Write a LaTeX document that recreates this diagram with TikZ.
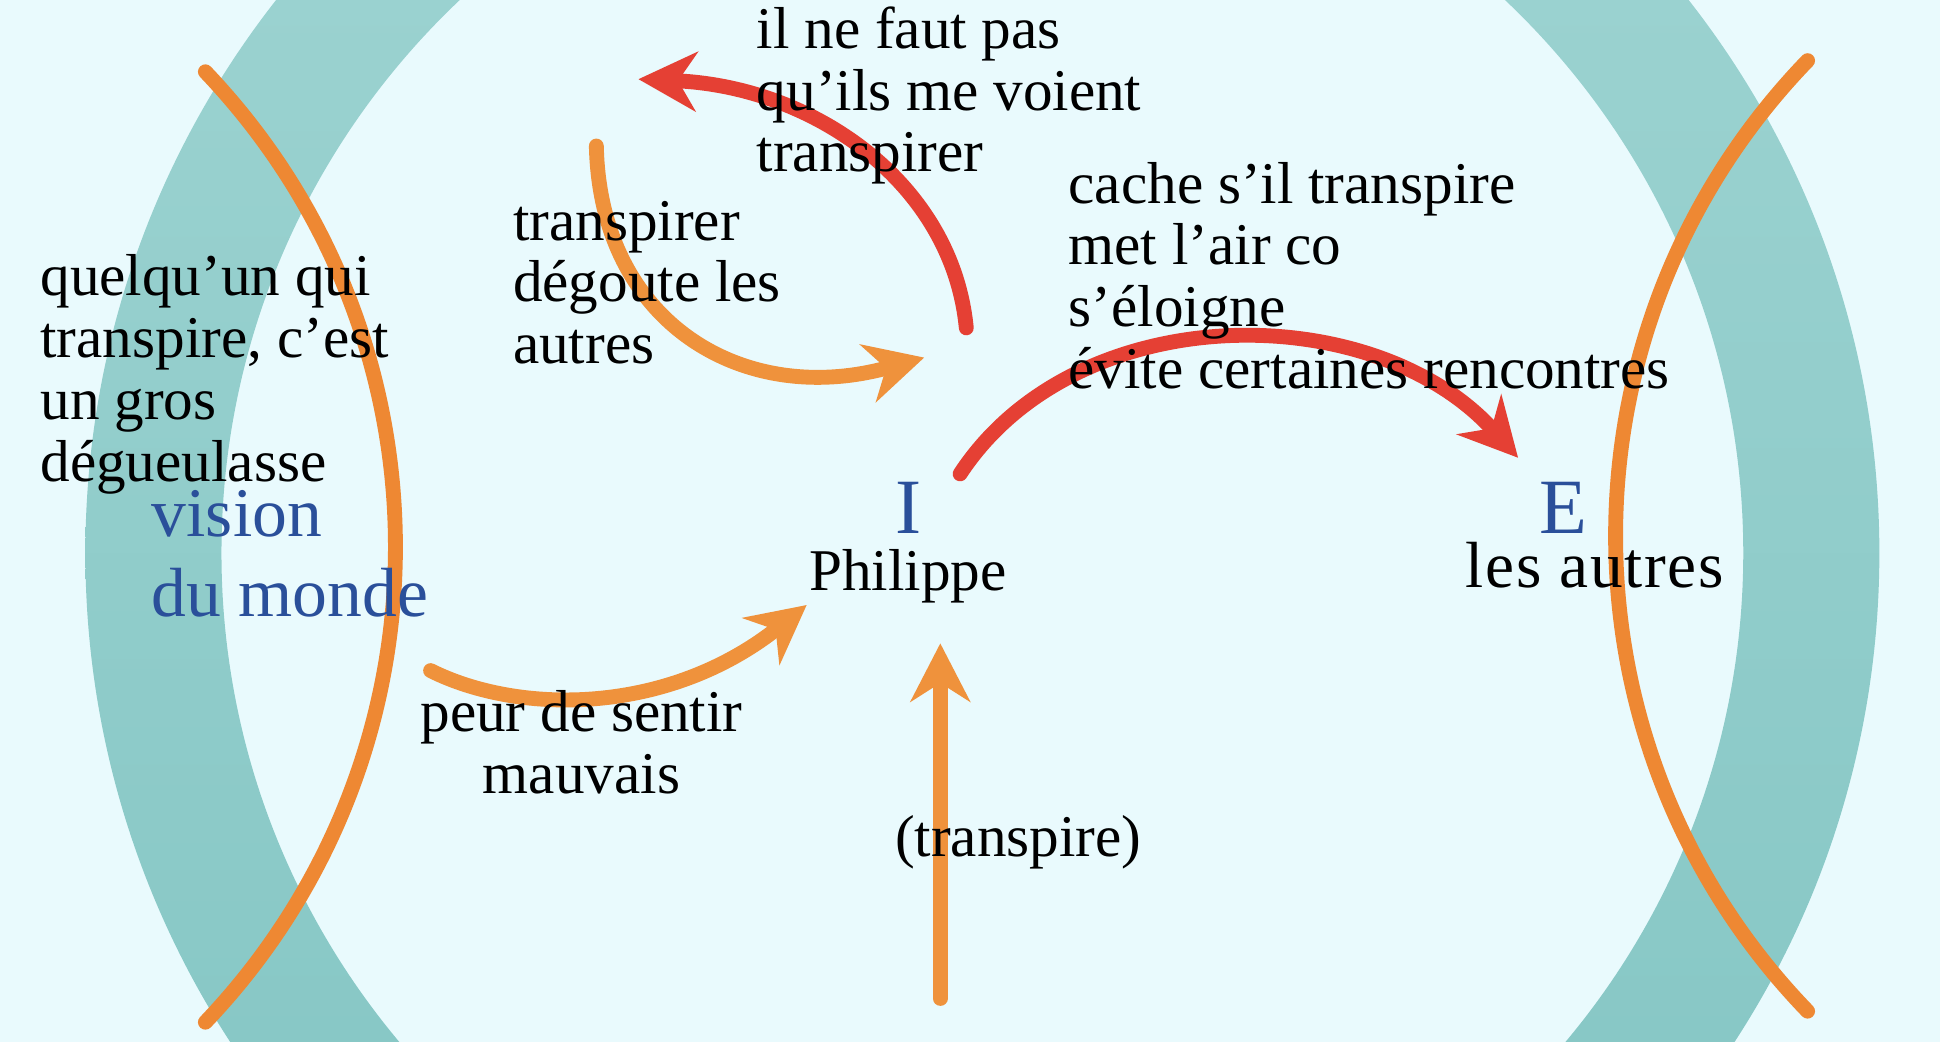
\documentclass[tikz,border=0pt]{standalone}
\usepackage{fontspec}
\setmainfont{Liberation Serif}
\usetikzlibrary{arrows.meta}
\definecolor{bg}{RGB}{233,250,253}
\definecolor{tealtop}{RGB}{160,213,211}
\definecolor{tealbot}{RGB}{129,196,194}
\definecolor{parencol}{RGB}{238,136,51}
\definecolor{orangearr}{RGB}{239,146,60}
\definecolor{redarr}{RGB}{229,64,52}
\definecolor{bluetxt}{RGB}{42,79,154}
\tikzset{
  arr/.style={line width=0.12cm, line cap=round,
    -{Stealth[length=0.47cm, width=0.48cm, inset=0.15cm]}},
  paren/.style={draw=parencol, line width=0.12cm, line cap=round},
  txt/.style={font=\fontsize{13.6}{14.2}\selectfont, inner sep=0pt, align=left, text=black},
  blu/.style={font=\fontsize{16}{18.4}\selectfont, inner sep=0pt, align=left, text=bluetxt},
  bigletter/.style={font=\fontsize{18}{20}\selectfont, inner sep=0pt, text=bluetxt}
}
\begin{document}
\begin{tikzpicture}[x=0.01cm,y=0.01cm]
\fill[bg] (0,0) rectangle (1568,-842);
\useasboundingbox (0,0) rectangle (1568,-842);
% big ring
\begin{scope}
  \clip (0,0) rectangle (1568,-842);
  \shade[top color=tealtop, bottom color=tealbot, even odd rule]
    (794,-447) circle[radius=725] (794,-447) circle[radius=615];
\end{scope}
% orange brackets
\draw[paren] (166,-58) arc[start angle=43.6, end angle=-43.6, radius=557];
\draw[paren] (1461,-49) arc[start angle=136, end angle=224, radius=553];
% arrow end points
\coordinate (aT) at (781,-265); \coordinate (aH) at (516,-64);
\coordinate (bT) at (482,-118); \coordinate (bH) at (747,-289);
\coordinate (cT) at (776,-383); \coordinate (cH) at (1227,-370);
\coordinate (dT) at (348,-542); \coordinate (dH) at (652,-489);
\coordinate (eT) at (760,-807); \coordinate (eH) at (760,-520);
% arrows
\draw[arr, draw=redarr] (aT) .. controls (770,-150) and (660,-70) .. (aH);
\draw[arr, draw=orangearr] (bT) .. controls (485,-260) and (600,-330) .. (bH);
\draw[arr, draw=redarr] (cT) .. controls (870,-240) and (1110,-240) .. (cH);
\draw[arr, draw=orangearr] (dT) .. controls (420,-578) and (540,-578) .. (dH);
\draw[arr, draw=orangearr] (eT) -- (eH);
% texts (multi-line nodes: base = last line)
\node[txt, anchor=base west] (t1) at (611,-139) {il ne faut pas\\qu’ils me voient\\transpirer};
\node[txt, anchor=base west] (t2) at (863,-314) {cache s’il transpire\\met l’air co\\s’éloigne\\évite certaines rencontres};
\node[txt, anchor=base west] (t3) at (414,-294) {transpirer\\dégoute les\\autres};
\node[txt, anchor=base west] (t4) at (32,-389) {quelqu’un qui\\transpire, c’est\\un gros\\dégueulasse};
\node[blu, anchor=base west] (vis) at (122,-498) {vision\\du monde};
\node[bigletter, anchor=base] (I) at (734,-431) {I};
\node[txt, anchor=base] (phil) at (734,-477) {Philippe};
\node[bigletter, anchor=base] (E) at (1264,-431) {E};
\node[txt, font=\fontsize{15}{16}\selectfont\addfontfeature{LetterSpace=2.5}, anchor=base] (autres) at (1289,-475) {les autres};
\node[txt, align=center, anchor=base] (peur) at (470,-641) {peur de sentir\\mauvais};
\node[txt, anchor=base] (transp) at (823,-692) {(transpire)};
\end{tikzpicture}
\end{document}
